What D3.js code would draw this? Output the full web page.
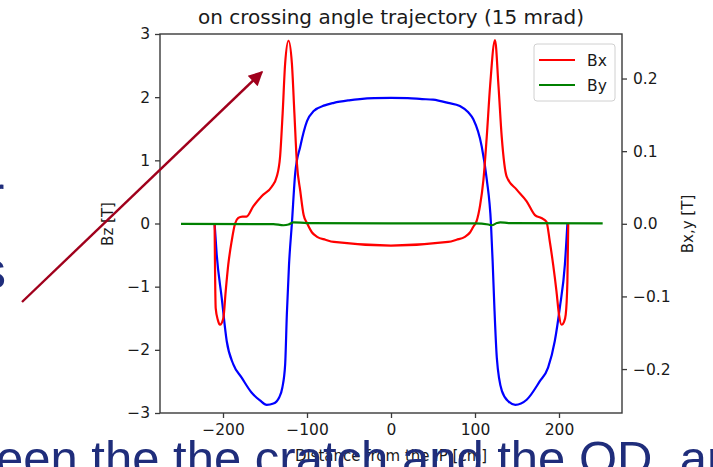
<!DOCTYPE html>
<meta charset="utf-8">
<script src="https://cdn.jsdelivr.net/npm/d3@7"></script>
<style>
body { margin: 0; background: #fff; }
svg { display: block; }
.tick text { font-family: "DejaVu Sans", sans-serif; font-size: 15.5px; fill: #1a1a1a; }
.tick line { stroke: #3a3a3a; stroke-width: 1.3px; }
.lbl { font-family: "DejaVu Sans", sans-serif; fill: #1a1a1a; }
.slide { font-family: "Liberation Sans", sans-serif; fill: #1f2d7b; }
</style>
<div id="chart"></div>
<script>
// distance from IP [cm] and field values
var bzX = [-210, -207.5, -201.5, -195.6, -187.7, -177.8, -165.8, -156, -148, -140, -133, -129.4, -126, -124, -121.4, -118, -114, -108, -100, -92, -79, -68, -50, -37, -20, 0, 20, 37, 50, 68, 82, 92, 98, 108, 114, 119, 121, 123, 126, 132, 140, 148, 161.5, 177, 187, 195, 201, 207, 210];
var bzVals = [0, -0.49, -1.18, -1.86, -2.23, -2.44, -2.68, -2.8, -2.87, -2.85, -2.75, -2.6, -2.23, -1.44, -0.65, 0, 0.8, 1.22, 1.62, 1.78, 1.87, 1.91, 1.95, 1.97, 1.985, 1.99, 1.985, 1.97, 1.96, 1.91, 1.86, 1.76, 1.65, 1.22, 0.7, 0, -0.6, -1.3, -2.13, -2.65, -2.82, -2.87, -2.79, -2.5, -2.28, -1.86, -1.33, -0.65, 0];

var bxX = [-210, -209.6, -208.7, -206, -203.6, -199.6, -196.8, -193.7, -189.7, -185.7, -181.8, -177, -172, -164, -154, -142, -136, -132, -129, -126, -122, -118, -115, -112, -108, -104, -100, -94, -88, -78, -68, 0, 68, 78, 88, 94, 98, 102, 106, 110, 114, 118, 123.8, 128, 131.8, 137.7, 149.6, 161.5, 171.4, 179, 185, 189, 193, 197, 200, 203, 206, 208, 210, 211];
var bxVals = [0, -0.05, -0.116, -0.133, -0.139, -0.13, -0.093, -0.056, -0.024, 0, 0.008, 0.01, 0.01, 0.024, 0.038, 0.051, 0.065, 0.093, 0.152, 0.221, 0.252, 0.221, 0.152, 0.083, 0.045, 0.012, 0.001, -0.012, -0.018, -0.022, -0.025, -0.03, -0.025, -0.022, -0.018, -0.012, -0.004, 0.004, 0.025, 0.06, 0.12, 0.19, 0.253, 0.189, 0.12, 0.065, 0.047, 0.031, 0.012, 0.008, 0.003, -0.024, -0.056, -0.093, -0.125, -0.139, -0.135, -0.125, -0.079, 0];

var byX = [-250, -140, -128, -122, -116, -100, 0, 100, 116, 120, 126, 130, 140, 252];
var byVals = [0, -0.0005, -0.002, -0.001, 0.002, 0.001, 0.0005, 0.0005, -0.001, -0.002, 0.001, 0.002, 0.001, 0.0005];

var xTicks = [-200, -100, 0, 100, 200];
var bzTicks = [-3, -2, -1, 0, 1, 2, 3];
var bxyTicks = [-0.2, -0.1, 0.0, 0.1, 0.2];

var W = 713, H = 467;
var pLeft = 160, pRight = 622, pTop = 34, pBottom = 413;

var svg = d3.select("#chart").append("svg")
    .attr("width", W)
    .attr("height", H);

var x = d3.scaleLinear().domain([-275, 275]).range([pLeft, pRight]);
var yL = d3.scaleLinear().domain([-3, 3]).range([pBottom, pTop]);
var yR = d3.scaleLinear().domain([-0.2605, 0.2613]).range([pBottom, pTop]);

// axes
svg.append("g")
    .attr("transform", "translate(0," + pBottom + ")")
    .call(d3.axisBottom(x).tickValues(xTicks).tickSize(5).tickPadding(6).tickFormat(d3.format("d")));
svg.append("g")
    .attr("transform", "translate(" + pLeft + ",0)")
    .call(d3.axisLeft(yL).tickValues(bzTicks).tickSize(5).tickPadding(5).tickFormat(d3.format("d")));
svg.append("g")
    .attr("transform", "translate(" + pRight + ",0)")
    .call(d3.axisRight(yR).tickValues(bxyTicks).tickSize(5).tickPadding(6).tickFormat(d3.format(".1f")));
svg.selectAll(".domain").remove();
svg.selectAll(".tick text").attr("font-size", null).attr("font-family", null);

// lines
var mk = function(xs, vs) { return xs.map(function(d, i) { return [d, vs[i]]; }); };
var lineL = d3.line().x(function(d) { return x(d[0]); }).y(function(d) { return yL(d[1]); }).curve(d3.curveMonotoneX);
var lineR = d3.line().x(function(d) { return x(d[0]); }).y(function(d) { return yR(d[1]); }).curve(d3.curveMonotoneX);

var plot = svg.append("g");
plot.append("path").datum(mk(bzX, bzVals))
    .attr("d", lineL).attr("fill", "none").attr("stroke", "#0000ff").attr("stroke-width", 2.2);
plot.append("path").datum(mk(bxX, bxVals))
    .attr("d", lineR).attr("fill", "none").attr("stroke", "#ff0000").attr("stroke-width", 2.2);
plot.append("path").datum(mk(byX, byVals))
    .attr("d", lineR).attr("fill", "none").attr("stroke", "#008000").attr("stroke-width", 2.2);

// frame
svg.append("rect")
    .attr("x", pLeft).attr("y", pTop)
    .attr("width", pRight - pLeft).attr("height", pBottom - pTop)
    .attr("fill", "none").attr("stroke", "#3a3a3a").attr("stroke-width", 1.4);

// legend
var lg = svg.append("g");
lg.append("rect")
    .attr("x", 534).attr("y", 44).attr("width", 81).attr("height", 57).attr("rx", 3)
    .attr("fill", "#fff").attr("fill-opacity", 0.8).attr("stroke", "#d0d0d0");
var series = [["Bx", "#ff0000"], ["By", "#008000"]];
series.forEach(function(s, i) {
  var yy = 60 + i * 25;
  lg.append("line").attr("x1", 539).attr("x2", 575).attr("y1", yy).attr("y2", yy)
    .attr("stroke", s[1]).attr("stroke-width", 2.2);
  lg.append("text").attr("class", "lbl").attr("x", 587).attr("y", yy + 5.5)
    .attr("font-size", 15.5).text(s[0]);
});

// titles
svg.append("text").attr("class", "lbl")
    .attr("x", 391).attr("y", 24).attr("text-anchor", "middle").attr("font-size", 20)
    .text("on crossing angle trajectory (15 mrad)");
svg.append("text").attr("class", "lbl")
    .attr("transform", "translate(113,224) rotate(-90)").attr("text-anchor", "middle").attr("font-size", 15)
    .text("Bz [T]");
svg.append("text").attr("class", "lbl")
    .attr("transform", "translate(693,224) rotate(-90)").attr("text-anchor", "middle").attr("font-size", 15)
    .text("Bx,y [T]");
svg.append("text").attr("class", "lbl")
    .attr("x", 391).attr("y", 461).attr("text-anchor", "middle").attr("font-size", 15)
    .text("Distance from the IP [cm]");

// slide overlay: text fragments and arrow
svg.append("text").attr("class", "slide").attr("x", -20).attr("y", 288).attr("font-size", 52).text("s");
svg.append("text").attr("class", "slide").attr("x", -13).attr("y", 212).attr("font-size", 52).text("r");
svg.append("text").attr("class", "slide").attr("x", -4).attr("y", 475).attr("font-size", 49)
    .text("een the the cratch and the QD, an");

svg.append("defs").append("marker")
    .attr("id", "head").attr("viewBox", "0 0 10 10").attr("refX", 9).attr("refY", 5)
    .attr("markerWidth", 7).attr("markerHeight", 6).attr("markerUnits", "strokeWidth").attr("orient", "auto")
  .append("path").attr("d", "M0,0 L10,5 L0,10 z").attr("fill", "#a0001c");
svg.append("line")
    .attr("x1", 22).attr("y1", 302).attr("x2", 262).attr("y2", 72)
    .attr("stroke", "#a0001c").attr("stroke-width", 2.4).attr("marker-end", "url(#head)");
</script>
